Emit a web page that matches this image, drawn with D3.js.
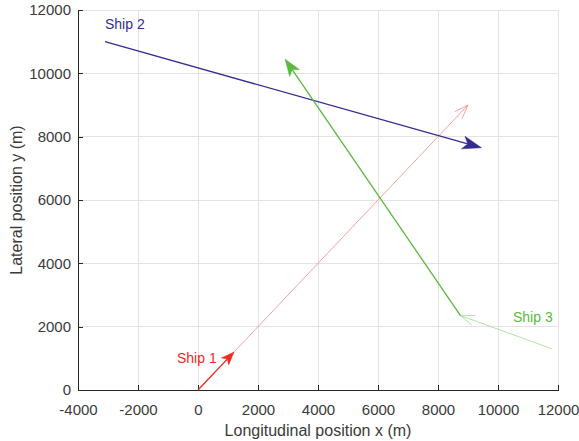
<!DOCTYPE html>
<html><head><meta charset="utf-8">
<script src="https://cdn.jsdelivr.net/npm/d3@7"></script>
<style>body{margin:0;background:#fff}svg{display:block}text{font-family:"Liberation Sans",Arial,sans-serif}</style>
</head><body><svg id="c" width="579" height="441"></svg>
<script>
const xTicks = [-4000,-2000,0,2000,4000,6000,8000,10000,12000];
const yTicks = [0,2000,4000,6000,8000,10000,12000];
const shipNames = ["Ship 1","Ship 2","Ship 3"];
const shipColors = ["#ee2a22","#342d90","#5ab93e"];
const shipThinColors = ["#f28a84","#342d90","#9fd98e"];
// thick (current heading) arrows: [x0,y0,x1,y1]
const thickArrows = [[0,0,1200,1200],[-3100,11000,9450,7650],[8750,2350,2900,10450]];
// thin (predicted/past) paths with open heads: [x0,y0,x1,y1]
const thinArrows = [[0,0,9000,9000],null,[11800,1300,8750,2350]];
const labelPos = [[-700,850],[-3100,11400],[10500,2150]];

const svg = d3.select("#c");
const L=78,R=558,T=10,B=390;
const x = d3.scaleLinear().domain([-4000,12000]).range([L,R]);
const y = d3.scaleLinear().domain([0,12000]).range([B,T]);
const fmt = d => String(d);

// grid
svg.append("g").selectAll("line").data(xTicks).join("line")
  .attr("x1",d=>x(d)).attr("x2",d=>x(d)).attr("y1",T).attr("y2",B)
  .attr("stroke","#e3e3e3").attr("stroke-width",1).attr("shape-rendering","crispEdges");
svg.append("g").selectAll("line").data(yTicks).join("line")
  .attr("x1",L).attr("x2",R).attr("y1",d=>y(d)).attr("y2",d=>y(d))
  .attr("stroke","#e3e3e3").attr("stroke-width",1).attr("shape-rendering","crispEdges");

// axes
const gx = svg.append("g").attr("transform",`translate(0,${B})`)
  .call(d3.axisBottom(x).tickValues(xTicks).tickFormat(fmt).tickSizeInner(-5).tickSizeOuter(0).tickPadding(14));
const gy = svg.append("g").attr("transform",`translate(${L},0)`)
  .call(d3.axisLeft(y).tickValues(yTicks).tickFormat(fmt).tickSizeInner(-5).tickSizeOuter(0).tickPadding(7));
[gx,gy].forEach(g=>{
  g.select(".domain").attr("stroke","#262626").attr("shape-rendering","crispEdges");
  g.selectAll(".tick line").attr("stroke","#262626").attr("shape-rendering","crispEdges");
  g.selectAll(".tick text").attr("fill","#3a3a3a").style("font-size","15px");
});

svg.append("text").attr("x",(L+R)/2).attr("y",436).attr("text-anchor","middle")
  .attr("fill","#3a3a3a").style("font-size","16px").text("Longitudinal position x (m)");
svg.append("text").attr("transform",`translate(22,${(T+B)/2}) rotate(-90)`).attr("text-anchor","middle")
  .attr("fill","#3a3a3a").style("font-size","16px").text("Lateral position y (m)");

function headPts(px0,py0,px1,py1,len,wid){
  const dx=px1-px0, dy=py1-py0, n=Math.hypot(dx,dy), ux=dx/n, uy=dy/n;
  const bx=px1-ux*len, by=py1-uy*len;
  return {bx,by,l:[bx-uy*wid/2,by+ux*wid/2],r:[bx+uy*wid/2,by-ux*wid/2],
    notch:[px1-ux*len*0.75,py1-uy*len*0.75]};
}

const g = svg.append("g");
// thin lines
thinArrows.forEach((a,i)=>{
  if(!a) return;
  const p0=[x(a[0]),y(a[1])], p1=[x(a[2]),y(a[3])];
  g.append("line").attr("x1",p0[0]).attr("y1",p0[1]).attr("x2",p1[0]).attr("y2",p1[1])
    .attr("stroke",shipThinColors[i]).attr("stroke-width",0.8);
  const h=headPts(p0[0],p0[1],p1[0],p1[1],14,10);
  g.append("path").attr("d",`M${h.l[0]},${h.l[1]}L${p1[0]},${p1[1]}L${h.r[0]},${h.r[1]}`)
    .attr("fill","none").attr("stroke",shipThinColors[i]).attr("stroke-width",0.8);
});
// thick arrows
const headSize=[[13,10],[19,13],[17,12]];
thickArrows.forEach((a,i)=>{
  const p0=[x(a[0]),y(a[1])], p1=[x(a[2]),y(a[3])];
  const h=headPts(p0[0],p0[1],p1[0],p1[1],headSize[i][0],headSize[i][1]);
  g.append("line").attr("x1",p0[0]).attr("y1",p0[1]).attr("x2",h.notch[0]).attr("y2",h.notch[1])
    .attr("stroke",shipColors[i]).attr("stroke-width",1.3);
  g.append("path").attr("d",`M${p1[0]},${p1[1]}L${h.l[0]},${h.l[1]}L${h.notch[0]},${h.notch[1]}L${h.r[0]},${h.r[1]}Z`)
    .attr("fill",shipColors[i]).attr("stroke",shipColors[i]).attr("stroke-width",0.5);
});
// labels
svg.append("g").selectAll("text").data(shipNames).join("text")
  .attr("x",(d,i)=>x(labelPos[i][0])).attr("y",(d,i)=>y(labelPos[i][1]))
  .attr("text-anchor","start")
  .attr("fill",(d,i)=>shipColors[i]).style("font-size","14px").text(d=>d);
</script></body></html>
